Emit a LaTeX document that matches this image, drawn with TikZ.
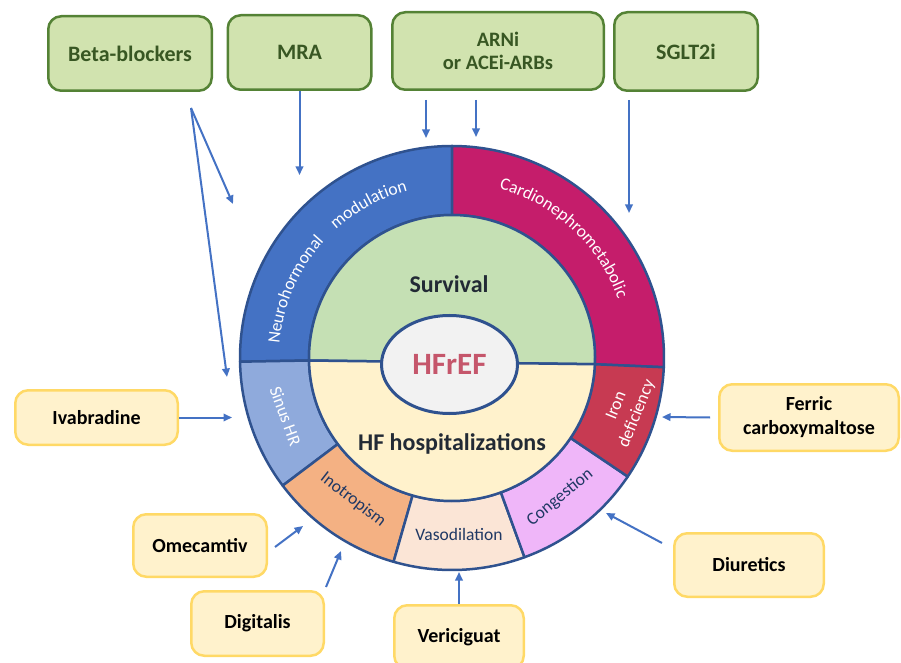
\documentclass[tikz,border=0pt]{standalone}
\usepackage{fontspec}
\setsansfont{Carlito}
\usetikzlibrary{arrows.meta}
\usetikzlibrary{shapes}
\usetikzlibrary{decorations.text}

\definecolor{ringLine}{HTML}{2F528F}
\definecolor{neuroBlue}{HTML}{4472C4}
\definecolor{cardioPink}{HTML}{C51D6B}
\definecolor{sinusBlue}{HTML}{8FAADC}
\definecolor{inoOrange}{HTML}{F4B183}
\definecolor{vasoPeach}{HTML}{FBE5D6}
\definecolor{congViolet}{HTML}{EFB6F9}
\definecolor{ironRed}{HTML}{C73A52}
\definecolor{survGreen}{HTML}{C5E0B4}
\definecolor{hospYellow}{HTML}{FFF2CC}
\definecolor{coreGrey}{HTML}{F2F2F2}
\definecolor{coreRed}{HTML}{C5566B}
\definecolor{darkText}{HTML}{222A35}
\definecolor{navyText}{HTML}{1F3864}
\definecolor{drugGreenFill}{HTML}{D1E3AF}
\definecolor{drugGreenLine}{HTML}{548235}
\definecolor{drugGreenText}{HTML}{385723}
\definecolor{drugYellowFill}{HTML}{FFF2CC}
\definecolor{drugYellowLine}{HTML}{FFD966}
\definecolor{arrowBlue}{HTML}{4472C4}

\newcommand{\ringFont}{\sffamily\fontsize{17.5}{22}\selectfont}

\begin{document}
\begin{tikzpicture}[x = 1pt, y = 1pt, font=\sffamily]
	\tikzstyle{greenBoxStyle}=[shape = rectangle, rounded corners = 13pt, draw = drugGreenLine, fill = drugGreenFill, line width = 2.5pt, text = drugGreenText, font = \sffamily\bfseries\fontsize{22}{23}\selectfont, align = center, inner sep = 0pt]
	\tikzstyle{yellowBoxStyle}=[shape = rectangle, rounded corners = 13pt, draw = drugYellowLine, fill = drugYellowFill, line width = 2.5pt, text = black, font = \sffamily\bfseries\fontsize{20}{24}\selectfont, align = center, inner sep = 0pt]
	\tikzstyle{segStyle}=[draw = ringLine, line width = 2.5pt, line join = round]
	\tikzstyle{ringTextStyle}=[font = \ringFont, align = center, inner sep = 0pt]
	\tikzstyle{coreTextStyle}=[font = \sffamily\bfseries\fontsize{24}{28}\selectfont, text = darkText, inner sep = 0pt]
	\tikzstyle{arcTextStyle}=[decorate, decoration = {text along path, text align = center, text color = white}]
	\tikzstyle{arrowStyle}=[draw = arrowBlue, line width = 2pt, -{Triangle[length = 8.5pt, width = 7.5pt]}]

	\useasboundingbox (0, 0) rectangle (901, 662);

	% ring and core
	\begin{scope}[shift = {(452, 304)}]
		\path[segStyle, fill = neuroBlue] (90:212) arc[start angle = 90, end angle = 181, radius = 212] -- (181:143) arc[start angle = 181, end angle = 90, radius = 143] -- cycle;
		\path[segStyle, fill = cardioPink] (-2.5:212) arc[start angle = -2.5, end angle = 90, radius = 212] -- (90:143) arc[start angle = 90, end angle = -2.5, radius = 143] -- cycle;
		\path[segStyle, fill = sinusBlue] (181:212) arc[start angle = 181, end angle = 217, radius = 212] -- (217:143) arc[start angle = 217, end angle = 181, radius = 143] -- cycle;
		\path[segStyle, fill = inoOrange] (217:212) arc[start angle = 217, end angle = 254, radius = 212] -- (254:143) arc[start angle = 254, end angle = 217, radius = 143] -- cycle;
		\path[segStyle, fill = vasoPeach] (254:212) arc[start angle = 254, end angle = 290, radius = 212] -- (290:143) arc[start angle = 290, end angle = 254, radius = 143] -- cycle;
		\path[segStyle, fill = congViolet] (290:212) arc[start angle = 290, end angle = 326, radius = 212] -- (326:143) arc[start angle = 326, end angle = 290, radius = 143] -- cycle;
		\path[segStyle, fill = ironRed] (326:212) arc[start angle = 326, end angle = 357.5, radius = 212] -- (357.5:143) arc[start angle = 357.5, end angle = 326, radius = 143] -- cycle;
		\path[segStyle, fill = survGreen] (-2.5:143) arc[start angle = -2.5, end angle = 181, radius = 143] -- cycle;
		\path[segStyle, fill = hospYellow] (181:143) arc[start angle = 181, end angle = 357.5, radius = 143] -- cycle;
		% curved labels
		\path[arcTextStyle, decoration = {text = {|\ringFont|Neurohormonal}}] (176:173) arc[start angle = 176, end angle = 137, radius = 173];
		\path[arcTextStyle, decoration = {text = {|\ringFont|modulation}}] (133:173) arc[start angle = 133, end angle = 104, radius = 173];
		\path[arcTextStyle, decoration = {text = {|\ringFont|Cardionephrometabolic}}] (75:176) arc[start angle = 75, end angle = 19, radius = 176];
	\end{scope}

	\node (hfref) [shape = ellipse, draw = ringLine, fill = coreGrey, line width = 3pt, minimum width = 136pt, minimum height = 98pt, inner sep = 0pt, text = coreRed, font = \sffamily\bfseries\fontsize{31}{34}\selectfont] at (449.5, 297.5) {HFrEF};
	\node (survival) [coreTextStyle] at (449, 378) {Survival};
	\node (hfhosp) [coreTextStyle] at (452, 218) {HF hospitalizations};

	\node (sinus) [ringTextStyle, text = white, rotate = -70] at (285.5, 246) {Sinus HR};
	\node (ino) [ringTextStyle, text = navyText, rotate = -38] at (353, 162) {Inotropism};
	\node (vaso) [ringTextStyle, text = navyText] at (459, 128) {Vasodilation};
	\node (cong) [ringTextStyle, text = navyText, rotate = 39] at (560, 164.5) {Congestion};
	\node (iron) [ringTextStyle, text = white, rotate = 68] at (627, 252) {Iron\\deficiency};

	% drug boxes
	\node (bb) [greenBoxStyle, minimum width = 163.5pt, minimum height = 74.5pt] at (130, 608.5) {Beta-blockers};
	\node (mra) [greenBoxStyle, minimum width = 143.5pt, minimum height = 74.5pt] at (299.5, 609.5) {MRA};
	\node (arni) [greenBoxStyle, minimum width = 211.5pt, minimum height = 77.5pt, font = \sffamily\bfseries\fontsize{20.5}{23}\selectfont] at (498, 611) {ARNi\\or ACEi-ARBs};
	\node (sglt) [greenBoxStyle, minimum width = 143.5pt, minimum height = 78.5pt] at (686, 610.5) {SGLT2i};
	\node (ivab) [yellowBoxStyle, minimum width = 162.5pt, minimum height = 54.5pt] at (96.5, 244.5) {Ivabradine};
	\node (ferric) [yellowBoxStyle, minimum width = 179.5pt, minimum height = 66.5pt] at (809, 244.5) {Ferric\\carboxymaltose};
	\node (omec) [yellowBoxStyle, minimum width = 133.5pt, minimum height = 62.5pt] at (200, 116.5) {Omecamtiv};
	\node (digi) [yellowBoxStyle, minimum width = 132.5pt, minimum height = 64.5pt] at (257.5, 38.5) {Digitalis};
	\node (veric) [yellowBoxStyle, minimum width = 129.5pt, minimum height = 63.5pt] at (459, 25) {Vericiguat};
	\node (diur) [yellowBoxStyle, minimum width = 149.5pt, minimum height = 63.5pt] at (749, 97) {Diuretics};

	% arrow ends
	\coordinate (bbStart) at (191, 554);
	\coordinate (bbEndA) at (233, 458);
	\coordinate (bbEndB) at (227, 285);
	\coordinate (mraEnd) at (299.5, 487);
	\coordinate (arniStartA) at (426, 562);
	\coordinate (arniEndA) at (426, 524);
	\coordinate (arniStartB) at (476, 562);
	\coordinate (arniEndB) at (476, 525);
	\coordinate (sgltStart) at (629, 562);
	\coordinate (sgltEnd) at (629, 449);
	\coordinate (ivabEnd) at (232, 244.5);
	\coordinate (ferricStart) at (710, 244.5);
	\coordinate (ferricEnd) at (662, 245);
	\coordinate (omecStart) at (275, 115);
	\coordinate (omecEnd) at (303, 136);
	\coordinate (digiStart) at (326, 75);
	\coordinate (digiEnd) at (341, 111);
	\coordinate (vericEnd) at (459, 90);
	\coordinate (diurStart) at (662, 119);
	\coordinate (diurEnd) at (606, 149);

	\draw[arrowStyle] (bbStart) -- (bbEndA);
	\draw[arrowStyle] (bbStart) -- (bbEndB);
	\draw[arrowStyle] (mra.south) -- (mraEnd);
	\draw[arrowStyle] (arniStartA) -- (arniEndA);
	\draw[arrowStyle] (arniStartB) -- (arniEndB);
	\draw[arrowStyle] (sgltStart) -- (sgltEnd);
	\draw[arrowStyle] (ivab.east) -- (ivabEnd);
	\draw[arrowStyle] (ferricStart) -- (ferricEnd);
	\draw[arrowStyle] (omecStart) -- (omecEnd);
	\draw[arrowStyle] (digiStart) -- (digiEnd);
	\draw[arrowStyle] (veric.north) -- (vericEnd);
	\draw[arrowStyle] (diurStart) -- (diurEnd);
\end{tikzpicture}
\end{document}
